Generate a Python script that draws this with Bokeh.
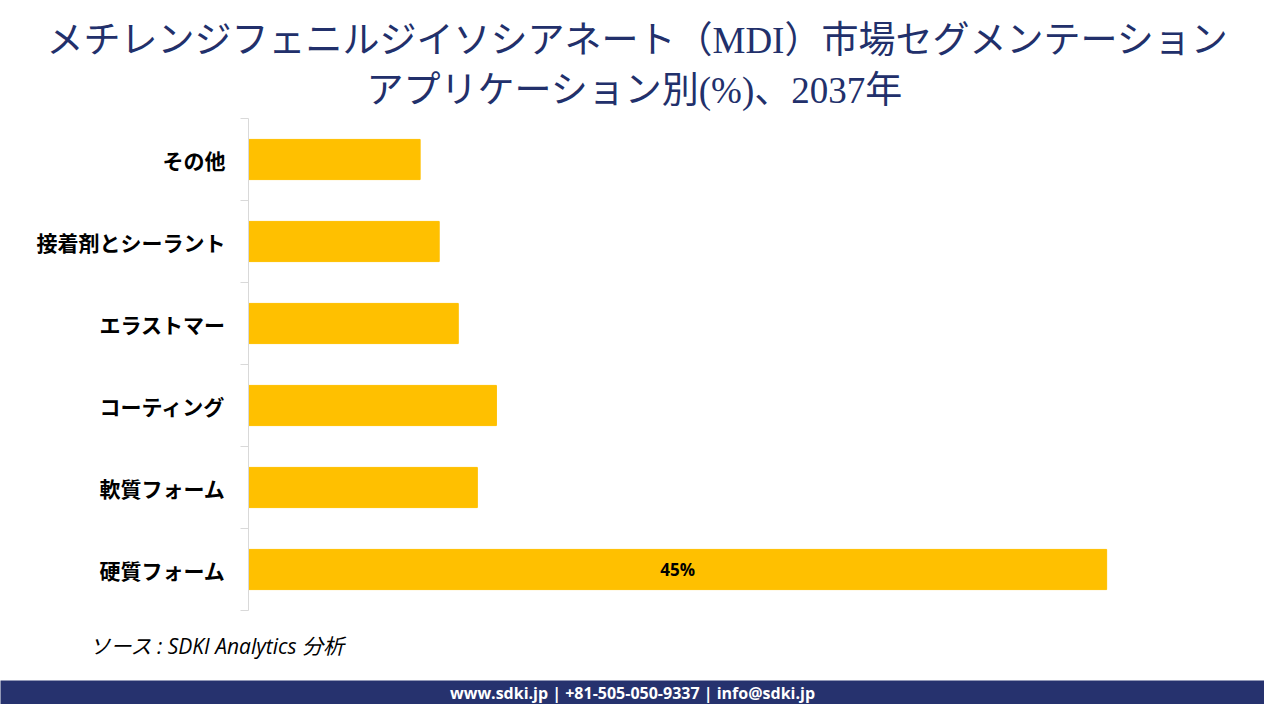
from bokeh.plotting import figure
from bokeh.models import ColumnDataSource, Range1d, FixedTicker, Label, Title
from bokeh.core.properties import value
from bokeh.embed import file_html
from bokeh.resources import INLINE

# ---- data (bottom to top) ----
categories = ["硬質フォーム", "軟質フォーム", "コーティング", "エラストマー", "接着剤とシーラント", "その他"]
shares = [45, 12, 13, 11, 10, 9]
bar_labels = ["45%", "", "", "", "", ""]

title_line1 = "メチレンジフェニルジイソシアネート（MDI）市場セグメンテーション"
title_line2 = "アプリケーション別(%)、2037年"
source_text = "ソース : SDKI Analytics  分析"
footer_text = "www.sdki.jp | +81-505-050-9337 | info@sdki.jp"

NAVY_TITLE = "#22306B"
NAVY_BAND = "#26326E"
GOLD = "#FFC000"
CJK = '"Noto Sans CJK JP"'

ypos = [i + 0.5 for i in range(len(categories))]
src = ColumnDataSource(dict(y=ypos, v=shares, cat=categories))

lab_idx = [i for i, t in enumerate(bar_labels) if t]
lab_src = ColumnDataSource(dict(
    x=[shares[i] / 2 for i in lab_idx],
    y=[ypos[i] for i in lab_idx],
    t=[bar_labels[i] for i in lab_idx],
))

p = figure(width=1264, height=680, output_backend="svg", toolbar_location=None,
           x_range=Range1d(0, 51.6), y_range=Range1d(0, len(categories)),
           min_border_left=248, min_border_right=32, min_border_top=118, min_border_bottom=70)
p.outline_line_color = None
p.grid.visible = False
p.xaxis.visible = False
p.background_fill_color = "white"
p.border_fill_color = "white"

p.hbar(y="y", right="v", left=0, height=0.49, color=GOLD, source=src)
p.text(x="x", y="y", text="t", source=lab_src, text_align="center", text_baseline="middle",
       text_font=value('"Open Sans"'), text_font_style="bold", text_font_size="17px", text_color="black")

ya = p.yaxis[0]
ya.ticker = FixedTicker(ticks=ypos, minor_ticks=list(range(len(categories) + 1)))
ya.major_label_overrides = {y: c for y, c in zip(ypos, categories)}
ya.axis_line_color = "#D9D9D9"
ya.major_tick_out = 0
ya.major_tick_in = 0
ya.minor_tick_out = 8
ya.minor_tick_in = 0
ya.minor_tick_line_color = "#D9D9D9"
ya.major_label_standoff = 15
ya.major_label_text_font = CJK
ya.major_label_text_font_style = "bold"
ya.major_label_text_font_size = "21px"
ya.major_label_text_color = "black"

title_font = '"Liberation Serif", "Noto Sans CJK JP"'
t2 = Title(text=title_line2, align="left", offset=118, text_font=title_font, text_font_size="37px",
           text_font_style="normal", text_color=NAVY_TITLE, standoff=15)
t1 = Title(text=title_line1, align="left", offset=-202, text_font=title_font, text_font_size="37px",
           text_font_style="normal", text_color=NAVY_TITLE, standoff=0)
p.add_layout(t2, "above")
p.add_layout(t1, "above")

ts = Title(text=source_text, align="left", offset=-159, text_font='"Open Sans", "Noto Sans CJK JP"',
           text_font_size="21px", text_font_style="italic", text_color="black", standoff=38)
p.add_layout(ts, "below")

f = figure(width=1264, height=24, output_backend="svg", toolbar_location=None,
           x_range=Range1d(0, 1), y_range=Range1d(0, 1), min_border=0)
f.axis.visible = False
f.grid.visible = False
f.outline_line_color = None
f.background_fill_color = NAVY_BAND
f.border_fill_color = NAVY_BAND
f.add_layout(Label(x=0.5, y=0.5, text=footer_text, text_align="center", text_baseline="middle",
                   text_font='"Open Sans"', text_font_style="bold", text_font_size="16px",
                   text_color="white"))

open("out.html", "w").write(file_html([p, f], INLINE))
